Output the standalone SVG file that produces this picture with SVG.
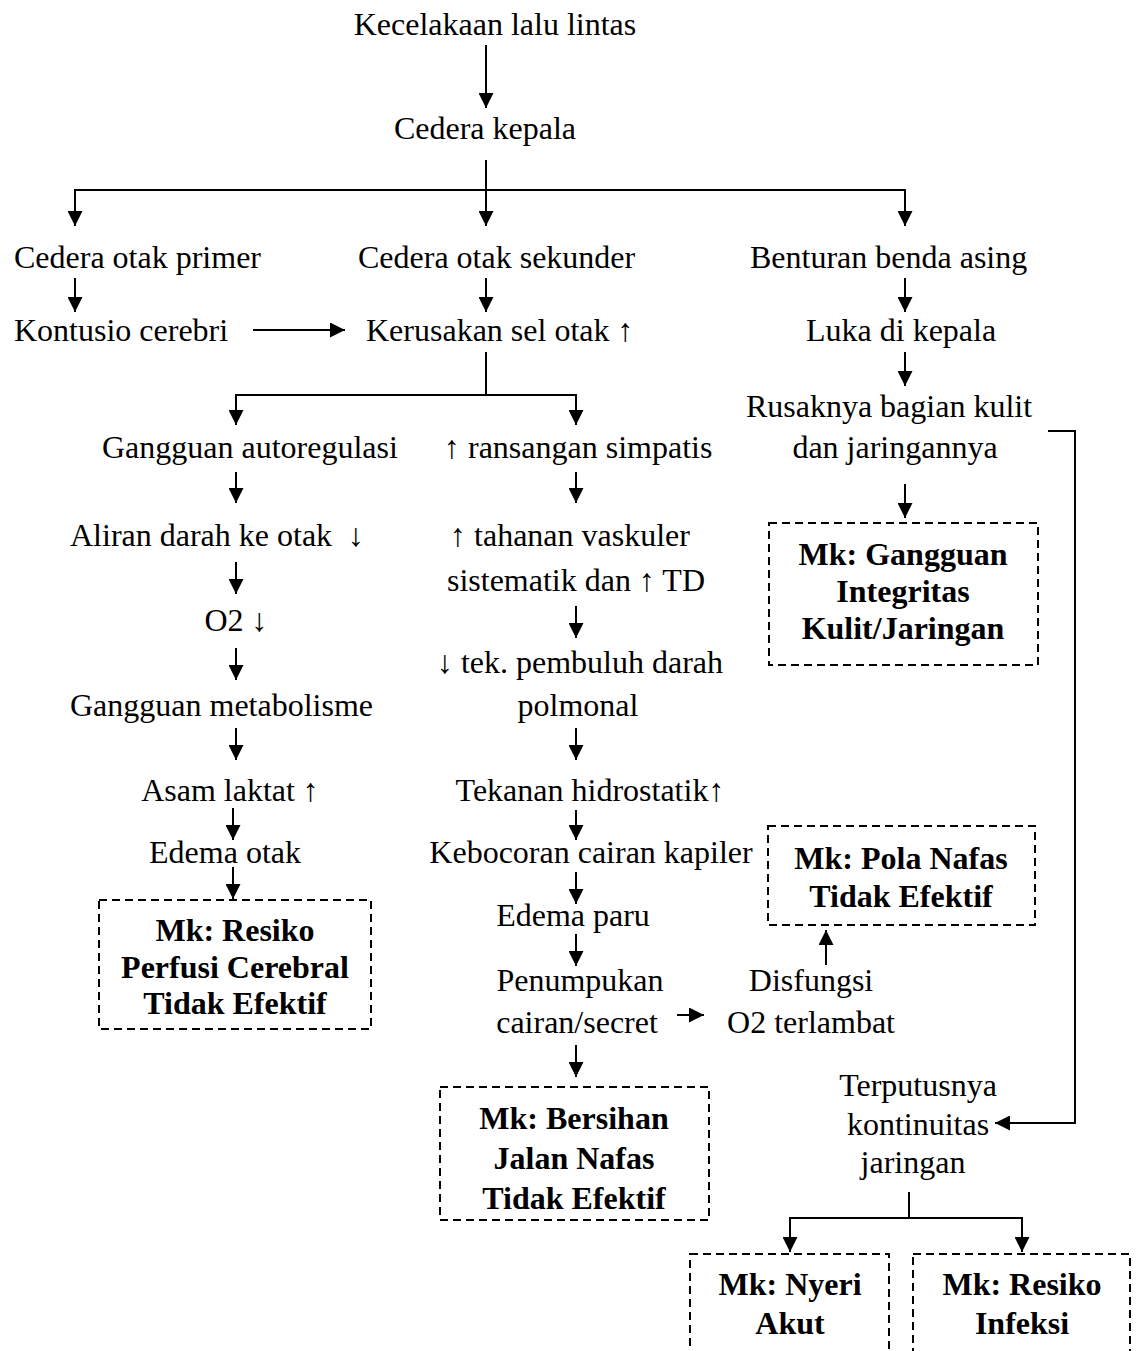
<svg xmlns="http://www.w3.org/2000/svg" width="1138" height="1351" viewBox="0 0 1138 1351">
<style>
text{font-family:"Liberation Serif","Times New Roman",serif;font-size:32px;fill:#000}
.b{font-weight:bold;text-anchor:middle}
.m{text-anchor:middle}
.c{stroke:#000;stroke-width:2;fill:none}
.a{marker-end:url(#ah)}
.box{fill:none;stroke:#000;stroke-width:2;stroke-dasharray:8 5}
</style>
<defs>
<marker id="ah" viewBox="0 0 10 10" refX="10" refY="5" markerWidth="15" markerHeight="15" markerUnits="userSpaceOnUse" orient="auto">
<path d="M0,0 L10,5 L0,10 z" fill="#000"/>
</marker>
</defs>
<rect width="1138" height="1351" fill="#fff"/>
<g id="connectors">
<line class="c a" x1="486" y1="45" x2="486" y2="108"/>
<line class="c" x1="486" y1="160" x2="486" y2="190"/>
<polyline class="c" points="75,190 905,190"/>
<line class="c a" x1="75" y1="189" x2="75" y2="226"/>
<line class="c a" x1="486" y1="190" x2="486" y2="226"/>
<line class="c a" x1="905" y1="189" x2="905" y2="226"/>
<line class="c a" x1="75" y1="278" x2="75" y2="312"/>
<line class="c a" x1="486" y1="278" x2="486" y2="312"/>
<line class="c a" x1="905" y1="278" x2="905" y2="312"/>
<line class="c a" x1="253" y1="330" x2="345" y2="330"/>
<line class="c" x1="486" y1="352" x2="486" y2="395"/>
<polyline class="c" points="236,395 576,395"/>
<line class="c a" x1="236" y1="394" x2="236" y2="425"/>
<line class="c a" x1="576" y1="394" x2="576" y2="425"/>
<line class="c a" x1="905" y1="352" x2="905" y2="386"/>
<line class="c a" x1="905" y1="484" x2="905" y2="518"/>
<polyline class="c" points="1048,431 1075,431 1075,1124"/>
<line class="c a" x1="1076" y1="1123" x2="995" y2="1123"/>
<line class="c a" x1="236" y1="472" x2="236" y2="503"/>
<line class="c a" x1="576" y1="472" x2="576" y2="503"/>
<line class="c a" x1="236" y1="562" x2="236" y2="594"/>
<line class="c a" x1="576" y1="606" x2="576" y2="638"/>
<line class="c a" x1="236" y1="648" x2="236" y2="680"/>
<line class="c a" x1="576" y1="728" x2="576" y2="760"/>
<line class="c a" x1="236" y1="728" x2="236" y2="760"/>
<line class="c a" x1="576" y1="810" x2="576" y2="840"/>
<line class="c a" x1="233" y1="808" x2="233" y2="840"/>
<line class="c a" x1="233" y1="867" x2="233" y2="899"/>
<line class="c a" x1="576" y1="872" x2="576" y2="904"/>
<line class="c a" x1="576" y1="934" x2="576" y2="966"/>
<line class="c a" x1="677" y1="1015" x2="704" y2="1015"/>
<line class="c a" x1="826" y1="965" x2="826" y2="930"/>
<line class="c a" x1="576" y1="1045" x2="576" y2="1077"/>
<line class="c" x1="909" y1="1192" x2="909" y2="1218"/>
<polyline class="c" points="790,1218 1022,1218"/>
<line class="c a" x1="790" y1="1217" x2="790" y2="1252"/>
<line class="c a" x1="1022" y1="1217" x2="1022" y2="1252"/>
</g>
<g id="n1"><text class="m" x="495" y="35">Kecelakaan lalu lintas</text></g>
<g id="n2"><text class="m" x="485" y="139">Cedera kepala</text></g>
<g id="n3"><text x="14" y="268">Cedera otak primer</text></g>
<g id="n4"><text x="358" y="268">Cedera otak sekunder</text></g>
<g id="n5"><text x="750" y="268">Benturan benda asing</text></g>
<g id="n6"><text x="14" y="341">Kontusio cerebri</text></g>
<g id="n7"><text x="366" y="341">Kerusakan sel otak ↑</text></g>
<g id="n8"><text x="806" y="341">Luka di kepala</text></g>
<g id="n9"><text class="m" x="889" y="417">Rusaknya bagian kulit</text><text class="m" x="895" y="458">dan jaringannya</text></g>
<g id="n10"><text x="102" y="458">Gangguan autoregulasi</text></g>
<g id="n11"><text x="444" y="458">↑ ransangan simpatis</text></g>
<g id="n12"><rect class="box" x="769" y="523" width="269" height="142"/><text class="b" x="903" y="565">Mk: Gangguan</text><text class="b" x="903" y="602">Integritas</text><text class="b" x="903" y="639">Kulit/Jaringan</text></g>
<g id="n13"><text x="70" y="546" xml:space="preserve">Aliran darah ke otak  ↓</text></g>
<g id="n14"><text class="m" x="570" y="546">↑ tahanan vaskuler</text><text class="m" x="576" y="591">sistematik dan ↑ TD</text></g>
<g id="n15"><text class="m" x="236" y="631">O2 ↓</text></g>
<g id="n16"><text class="m" x="580" y="673">↓ tek. pembuluh darah</text><text class="m" x="578" y="716">polmonal</text></g>
<g id="n17"><text x="70" y="716">Gangguan metabolisme</text></g>
<g id="n18"><text class="m" x="230" y="801">Asam laktat ↑</text></g>
<g id="n19"><text class="m" x="590" y="801">Tekanan hidrostatik↑</text></g>
<g id="n20"><text class="m" x="225" y="863">Edema otak</text></g>
<g id="n21"><text class="m" x="591" y="863">Kebocoran cairan kapiler</text></g>
<g id="n22"><rect class="box" x="99" y="900" width="272" height="129"/><text class="b" x="235" y="941">Mk: Resiko</text><text class="b" x="235" y="978">Perfusi Cerebral</text><text class="b" x="235" y="1014">Tidak Efektif</text></g>
<g id="n23"><rect class="box" x="768" y="826" width="267" height="99"/><text class="b" x="901" y="869">Mk: Pola Nafas</text><text class="b" x="901" y="907">Tidak Efektif</text></g>
<g id="n24"><text class="m" x="573" y="926">Edema paru</text></g>
<g id="n25"><text class="m" x="580" y="991">Penumpukan</text><text class="m" x="577" y="1033">cairan/secret</text></g>
<g id="n26"><text class="m" x="811" y="991">Disfungsi</text><text class="m" x="811" y="1033">O2 terlambat</text></g>
<g id="n27"><rect class="box" x="440" y="1087" width="269" height="133"/><text class="b" x="574" y="1129">Mk: Bersihan</text><text class="b" x="574" y="1169">Jalan Nafas</text><text class="b" x="574" y="1209">Tidak Efektif</text></g>
<g id="n28"><text class="m" x="918" y="1096">Terputusnya</text><text class="m" x="918" y="1135">kontinuitas</text><text class="m" x="913" y="1173">jaringan</text></g>
<g id="n29"><rect class="box" x="690" y="1254" width="199" height="120"/><text class="b" x="790" y="1295">Mk: Nyeri</text><text class="b" x="790" y="1334">Akut</text></g>
<g id="n30"><rect class="box" x="913" y="1254" width="217" height="120"/><text class="b" x="1022" y="1295">Mk: Resiko</text><text class="b" x="1022" y="1334">Infeksi</text></g>
</svg>
